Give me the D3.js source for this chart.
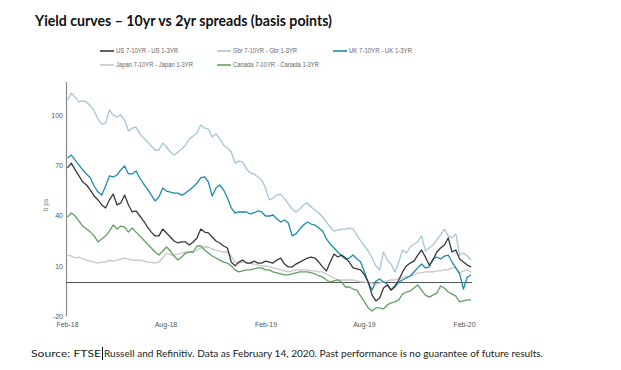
<!DOCTYPE html>
<html><head><meta charset="utf-8">
<script src="https://cdn.jsdelivr.net/npm/d3@7"></script>
<style>body{margin:0;background:#fff}</style>
</head><body><svg id="c" width="621" height="370"></svg>
<script>
// Weekly observations starting 2018-02-02, ending 2020-02-14
const startDate = "2018-02-02";
const xTickLabels = ["Feb-18","Aug-18","Feb-19","Aug-19","Feb-20"];
const yTicks = [-20, 10, 40, 70, 100];
const seriesNames = ["US 7-10YR - US 1-3YR","Gbr 7-10YR - Gbr 1-3YR","UK 7-10YR - UK 1-3YR","Japan 7-10YR - Japan 1-3YR","Canada 7-10YR - Canada 1-3YR"];

const usSpread = [68.4,71.3,67.2,63.6,60.0,58.2,55.2,51.6,49.3,46.3,44.5,49.3,52.8,46.3,47.5,52.2,46.3,42.1,42.7,39.7,36.7,33.1,30.1,27.8,27.8,31.9,29.6,27.2,24.8,23.6,24.2,24.2,22.4,24.2,26.6,31.9,30.1,29.6,27.2,24.8,23.6,21.8,20.6,12.2,9.9,12.2,13.4,11.6,11.6,12.8,11.6,11.6,12.8,12.2,11.6,13.4,14.6,11.0,9.3,9.3,11.0,12.2,13.4,14.6,15.2,14.6,12.2,9.3,6.9,12.2,17.0,15.2,16.4,14.6,12.2,8.7,8.1,7.5,4.5,0.3,-7.5,-11.0,-9.3,-3.3,-1.5,-4.5,-2.1,1.5,6.3,9.9,11.6,12.8,16.4,19.4,15.2,10.4,13.4,18.2,20.6,22.4,26.6,18.2,19.4,14.0,12.2,10.4,9.3];
const gbrSpread = [109.0,113.1,110.7,107.8,108.4,107.8,105.4,102.4,97.6,94.6,95.2,103.0,100.0,98.8,100.0,97.0,90.4,92.2,92.8,88.7,86.3,83.9,81.5,79.1,79.1,83.3,80.9,77.9,76.1,77.9,79.7,82.1,85.7,87.5,89.3,94.0,92.2,91.6,86.9,88.7,85.7,82.1,80.3,77.9,71.3,72.5,71.9,67.8,65.4,64.8,63.0,61.2,56.4,49.3,50.4,52.2,52.8,49.9,46.9,43.9,42.1,43.9,46.3,47.5,45.1,43.3,41.5,39.1,36.1,33.1,30.7,31.3,31.9,31.9,32.5,31.9,28.4,24.8,21.8,18.8,14.6,9.9,7.5,18.2,13.4,11.0,6.3,12.2,19.4,17.6,21.2,23.0,24.2,27.8,18.8,20.6,22.4,25.4,28.4,31.9,27.8,26.6,29.0,16.4,17.6,15.8,13.4];
const ukSpread = [74.3,76.1,73.1,70.1,67.2,64.8,62.4,57.6,54.0,52.2,57.6,63.6,63.0,64.2,67.2,69.6,64.8,64.8,66.6,62.4,58.8,55.8,52.2,48.7,51.0,56.4,54.6,54.0,53.4,53.4,52.2,53.4,55.2,57.0,59.4,62.4,63.0,60.0,51.6,56.4,58.2,55.2,50.4,44.5,41.5,42.1,42.1,42.1,40.9,41.5,42.7,42.1,39.7,39.7,40.3,37.9,36.1,37.3,35.5,27.8,29.0,31.9,34.3,36.1,34.9,34.3,32.5,30.7,26.0,23.0,20.6,18.2,15.8,14.0,14.6,16.4,14.0,12.2,6.3,-0.3,-4.5,0.9,2.1,0.3,-0.9,-4.5,-2.7,0.3,1.5,2.7,3.9,6.3,8.7,11.0,8.7,9.3,14.0,15.2,14.0,15.8,16.4,12.2,8.7,5.1,-3.9,3.3,4.5];
const japanSpread = [16.4,15.8,14.6,15.2,14.0,13.4,12.8,12.2,11.6,12.2,12.2,13.4,12.8,13.4,14.0,14.6,14.0,13.4,13.4,13.4,12.8,12.2,12.2,11.6,12.2,14.6,17.6,16.4,16.4,17.0,17.6,18.2,18.2,18.2,19.4,20.6,21.2,21.2,20.0,19.4,18.8,18.2,18.2,15.8,12.2,11.6,12.2,12.2,11.6,11.0,10.4,9.9,9.9,9.3,8.7,8.1,7.5,6.9,6.3,6.9,7.5,7.5,7.5,7.5,6.9,6.9,6.3,6.3,5.1,3.9,2.7,1.5,1.5,1.5,1.5,1.5,0.9,0.3,0.3,-0.3,-0.3,-0.9,-0.3,0.3,0.9,1.5,1.5,2.1,2.7,3.3,3.9,4.5,5.7,5.7,6.3,6.3,6.3,6.9,6.9,7.5,7.5,8.7,8.7,5.7,6.9,7.5,6.3];
const canadaSpread = [39.1,41.5,39.7,36.7,33.7,31.9,30.1,27.8,24.2,26.0,27.8,30.7,34.3,31.9,33.7,33.1,30.1,32.5,30.1,27.8,25.4,23.0,20.6,18.2,16.4,18.8,21.2,18.8,15.8,13.4,15.2,17.6,18.2,18.2,21.8,21.8,19.4,17.6,15.8,14.6,13.4,12.2,11.6,9.9,7.5,6.3,6.9,7.5,7.5,8.1,8.7,8.7,7.5,7.5,6.3,5.7,5.1,4.5,4.5,5.1,5.7,6.3,6.3,6.3,5.7,5.1,3.9,3.3,1.5,0.3,0.9,1.5,0.3,-2.7,-2.7,-3.9,-4.5,-8.1,-11.6,-15.2,-17.0,-15.2,-15.2,-15.8,-13.4,-12.2,-11.6,-10.4,-6.9,-5.7,-5.1,-3.3,-1.5,-4.5,-7.5,-8.7,-7.5,-6.3,-2.1,-3.3,-5.7,-6.9,-8.1,-11.6,-11.0,-10.4,-10.4];

const colors = {us:"#383838", gbr:"#a2c7d9", uk:"#1a8bb0", japan:"#c6c6c6", canada:"#62a062"};

const svg = d3.select("#c");
const parse = d3.timeParse("%Y-%m-%d");
const t0 = parse(startDate);
const dates = usSpread.map((_, i) => d3.timeDay.offset(t0, i * 7));

const x = d3.scaleTime().domain([new Date(2018,1,1), new Date(2020,1,1)]).range([67, 464]);
const y = d3.scaleLinear().domain([-20, 120]).range([316, 81.5]);

// Title
svg.append("text").attr("x", 35).attr("y", 26)
  .attr("font-family", "Lato, 'Open Sans', sans-serif").attr("font-weight", 700)
  .attr("font-size", 14.5).attr("fill", "#111")
  .attr("textLength", 297).attr("lengthAdjust", "spacingAndGlyphs")
  .text("Yield curves \u2013 10yr vs 2yr spreads (basis points)");

// Legend
const legendItems = [
  {name: seriesNames[0], c: colors.us, lx: 100, ty: 51, w: 62},
  {name: seriesNames[1], c: colors.gbr, lx: 217, ty: 51, w: 64},
  {name: seriesNames[2], c: colors.uk, lx: 333, ty: 51, w: 63},
  {name: seriesNames[3], c: colors.japan, lx: 100, ty: 65, w: 77},
  {name: seriesNames[4], c: colors.canada, lx: 217, ty: 65, w: 86}
];
const lg = svg.append("g");
legendItems.forEach(d => {
  lg.append("line").attr("x1", d.lx).attr("x2", d.lx + 14).attr("y1", d.ty).attr("y2", d.ty)
    .attr("stroke", d.c).attr("stroke-width", 1.6);
  lg.append("text").attr("x", d.lx + 16).attr("y", d.ty + 2.4)
    .attr("font-family", "'Liberation Sans', Arial, sans-serif").attr("font-size", 7)
    .attr("fill", "#666").attr("textLength", d.w).attr("lengthAdjust", "spacingAndGlyphs")
    .text(d.name);
});

// Y axis
const yAxis = svg.append("g").attr("transform", "translate(66,0)")
  .call(d3.axisLeft(y).tickValues(yTicks).tickSize(0).tickPadding(3).tickFormat(d => String(d)));
yAxis.select(".domain").attr("stroke", "#8a8a8a").attr("stroke-width", 1.2);
yAxis.selectAll("text").attr("font-family", "'Liberation Sans', Arial, sans-serif")
  .attr("font-size", 7).attr("fill", "#555");

// X axis
const xTickDates = xTickLabels.map(s => d3.timeParse("%b-%y")(s));
const xAxis = svg.append("g").attr("transform", "translate(0,317)")
  .call(d3.axisBottom(x).tickValues(xTickDates).tickSize(0).tickPadding(5)
    .tickFormat((d, i) => xTickLabels[i]));
xAxis.select(".domain").remove();
xAxis.selectAll("text").attr("font-family", "'Liberation Sans', Arial, sans-serif")
  .attr("font-size", 7).attr("fill", "#555");

// Y label
svg.append("text").attr("transform", "translate(48,205) rotate(-90)")
  .attr("text-anchor", "middle").attr("font-family", "'Liberation Sans', Arial, sans-serif")
  .attr("font-size", 6.5).attr("fill", "#777").text("b ps");

// Zero line
svg.append("line").attr("x1", 66).attr("x2", x(dates[dates.length-1]) + 1)
  .attr("y1", y(0)).attr("y2", y(0)).attr("stroke", "#555").attr("stroke-width", 1.2);

// Series
const line = d3.line().x((d, i) => x(dates[i])).y(d => y(d));
const series = [
  {v: japanSpread, c: colors.japan},
  {v: gbrSpread, c: colors.gbr},
  {v: canadaSpread, c: colors.canada},
  {v: ukSpread, c: colors.uk},
  {v: usSpread, c: colors.us}
];
series.forEach(s => {
  svg.append("path").datum(s.v).attr("d", line).attr("fill", "none")
    .attr("stroke", s.c).attr("stroke-width", 1.3).attr("stroke-linejoin", "round");
});

// Source
const src = svg.append("g").attr("font-family", "Lato, 'Liberation Sans', sans-serif")
  .attr("font-weight", 400).attr("font-size", 10).attr("fill", "#222");
src.append("text").attr("x", 31).attr("y", 357).attr("textLength", 70).attr("lengthAdjust", "spacingAndGlyphs")
  .text("Source: FTSE");
src.append("text").attr("x", 104).attr("y", 357).attr("textLength", 439).attr("lengthAdjust", "spacingAndGlyphs")
  .text("Russell and Refinitiv. Data as February 14, 2020. Past performance is no guarantee of future results.");
svg.append("line").attr("x1", 102.5).attr("x2", 102.5).attr("y1", 347).attr("y2", 360)
  .attr("stroke", "#111").attr("stroke-width", 1);
</script></body></html>
